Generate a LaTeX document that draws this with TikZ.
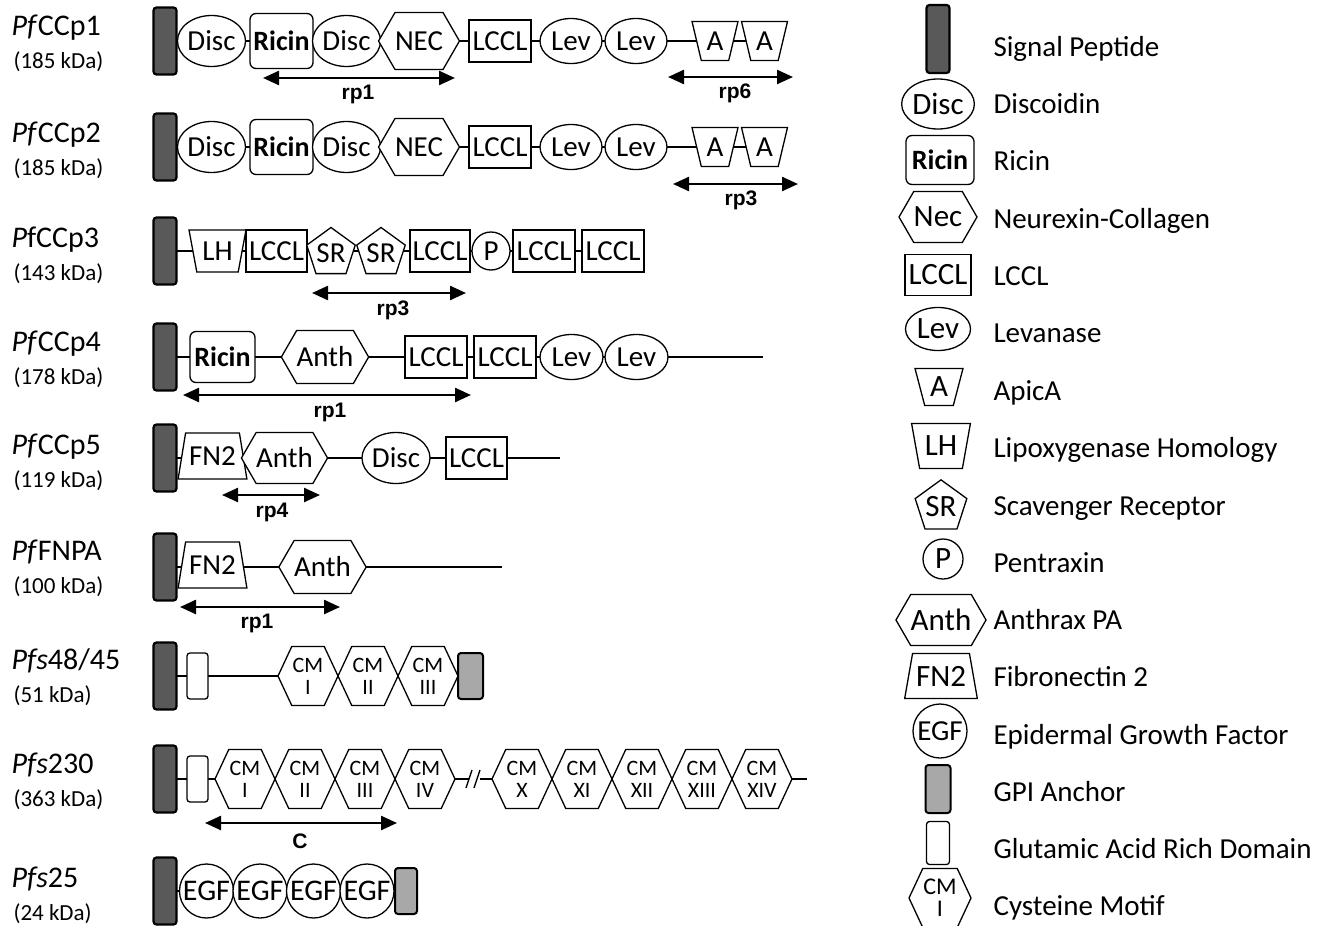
\documentclass[tikz,border=0pt]{standalone}
\usepackage{fontspec}
\setmainfont{Carlito}
\newfontfamily\labfont{Liberation Sans}
\usetikzlibrary{shapes.geometric,shapes.symbols,arrows.meta,backgrounds}
\definecolor{spgray}{HTML}{595959}
\definecolor{gpigray}{HTML}{A8A8A8}
\newcommand\domfont{\fontsize{29}{29}\selectfont}
\newcommand\ldomfont{\fontsize{31}{31}\selectfont}
\newcommand\egffont{\fontsize{30}{30}\selectfont}
\newcommand\legfont{\fontsize{29}{30}\selectfont}
\newcommand\rpfont{\fontsize{21}{22}\selectfont\labfont\bfseries}
\newcommand\namefont{\fontsize{30}{30}\selectfont}
\newcommand\kdafont{\fontsize{23}{24}\selectfont}
\newcommand\cmfont{\fontsize{22}{22}\selectfont}
\begin{document}
\begin{tikzpicture}[x=1pt,y=-1pt,
  dom/.style={draw,line width=1.3pt,fill=white,inner sep=0pt,font=\domfont},
  ell/.style 2 args={dom,ellipse,minimum width=#1pt,minimum height=#2pt},
  box/.style 2 args={dom,rectangle,minimum width=#1pt,minimum height=#2pt},
  rbox/.style 2 args={dom,rectangle,rounded corners=6pt,minimum width=#1pt,minimum height=#2pt,font=\fontsize{28}{28}\selectfont\bfseries},
  hex/.style 2 args={dom,signal,signal to=east and west,signal pointer angle=120,minimum width=#1pt,minimum height=#2pt},
  cmx/.style={dom,signal,signal to=east and west,signal pointer angle=130,minimum width=60pt,minimum height=59pt,font=\cmfont,align=center},
  trapu/.style 2 args={dom,trapezium,trapezium stretches=true,shape border rotate=180,trapezium angle=73,minimum width=#1pt,minimum height=#2pt},
  trapd/.style 2 args={dom,trapezium,trapezium stretches=true,trapezium angle=71,minimum width=#1pt,minimum height=#2pt},
  pent/.style={dom,regular polygon,regular polygon sides=5,minimum size=#1pt},
  circ/.style={dom,circle,minimum size=#1pt},
  sp/.style={draw,line width=2.2pt,fill=spgray,rounded corners=3pt,inner sep=0pt,minimum width=23pt,minimum height=#1pt},
  sp/.default=67,
  gpi/.style 2 args={draw,line width=2pt,fill=gpigray,rounded corners=3pt,inner sep=0pt,minimum width=#1pt,minimum height=#2pt},
  glu/.style 2 args={draw,line width=1.3pt,fill=white,rounded corners=3pt,inner sep=0pt,minimum width=#1pt,minimum height=#2pt},
  bb/.style={line width=1.4pt},
  rng/.style={line width=2.4pt,{Triangle[length=16pt,width=14pt]}-{Triangle[length=16pt,width=14pt]}},
  rlab/.style={font=\rpfont},
  nm/.style={font=\namefont,anchor=base west},
  kda/.style={font=\kdafont,anchor=base west},
  leg/.style={font=\legfont,anchor=base west},
  lf/.style={font=\ldomfont},
]
\useasboundingbox (0,0) rectangle (1320,926);

% ---------- names ----------
\node[nm] (n1) at (8,35) {\textit{Pf}CCp1};
\node[kda] (k1) at (10,68) {(185 kDa)};
\node[nm] (n2) at (8,142) {\textit{Pf}CCp2};
\node[kda] (k2) at (10,175) {(185 kDa)};
\node[nm] (n3) at (8,247) {\textit{P}fCCp3};
\node[kda] (k3) at (10,280) {(143 kDa)};
\node[nm] (n4) at (8,351) {\textit{Pf}CCp4};
\node[kda] (k4) at (10,384) {(178 kDa)};
\node[nm] (n5) at (8,454) {\textit{Pf}CCp5};
\node[kda] (k5) at (10,487) {(119 kDa)};
\node[nm] (n6) at (8,560) {\textit{Pf}FNPA};
\node[kda] (k6) at (10,593) {(100 kDa)};
\node[nm] (n7) at (8,669) {\textit{Pfs}48/45};
\node[kda] (k7) at (10,702) {(51 kDa)};
\node[nm] (n8) at (8,773) {\textit{Pfs}230};
\node[kda] (k8) at (10,806) {(363 kDa)};
\node[nm] (n9) at (8,887) {\textit{Pfs}25};
\node[kda] (k9) at (10,920) {(24 kDa)};

% ---------- row 1 ----------
\node[sp] (sp1) at (165,41) {};
\node[ell={67}{51}] (r1d1) at (211.5,41) {Disc};
\node[rbox={63}{55}] (r1r) at (281.5,41) {Ricin};
\node[ell={67}{51}] (r1d2) at (346.5,41) {Disc};
\node[hex={72}{57}] (r1n) at (419,41) {NEC};
\node[box={62}{42}] (r1l) at (500,41) {LCCL};
\node[ell={62}{45}] (r1v1) at (571,41) {Lev};
\node[ell={62}{45}] (r1v2) at (636,41) {Lev};
\node[trapu={46}{39}] (r1a1) at (715,41) {A};
\node[trapu={46}{39}] (r1a2) at (764.5,41) {A};
\coordinate (r1ua) at (263,78); \coordinate (r1ub) at (455,78);
\draw[rng] (r1ua) -- (r1ub);
\node[rlab] (r1ul) at (358,94) {rp1};
\coordinate (r1va) at (668,77); \coordinate (r1vb) at (793,77);
\draw[rng] (r1va) -- (r1vb);
\node[rlab] (r1vl) at (735,93) {rp6};

% ---------- row 2 ----------
\node[sp] (sp2) at (165,147) {};
\node[ell={67}{51}] (r2d1) at (211.5,147) {Disc};
\node[rbox={63}{55}] (r2r) at (281.5,147) {Ricin};
\node[ell={67}{51}] (r2d2) at (346.5,147) {Disc};
\node[hex={72}{57}] (r2n) at (419,147) {NEC};
\node[box={62}{42}] (r2l) at (500,147) {LCCL};
\node[ell={62}{45}] (r2v1) at (571,147) {Lev};
\node[ell={62}{45}] (r2v2) at (636,147) {Lev};
\node[trapu={46}{39}] (r2a1) at (715,147) {A};
\node[trapu={46}{39}] (r2a2) at (764.5,147) {A};
\coordinate (r2ua) at (673,184); \coordinate (r2ub) at (798,184);
\draw[rng] (r2ua) -- (r2ub);
\node[rlab] (r2ul) at (741,200) {rp3};

% ---------- row 3 ----------
\node[sp] (sp3) at (165,251) {};
\node[trapu={57}{42}] (r3h) at (217.5,251) {LH};
\node[box={61}{42}] (r3l1) at (276.5,251) {LCCL};
\node[pent=51] (r3s1) at (331,253) {SR};
\node[pent=51] (r3s2) at (381,253) {SR};
\node[box={60}{42}] (r3l2) at (440,251) {LCCL};
\node[circ=38] (r3p) at (491,251) {P};
\node[box={62}{42}] (r3l3) at (544,251) {LCCL};
\node[box={62}{42}] (r3l4) at (613,251) {LCCL};
\coordinate (r3ua) at (312,293); \coordinate (r3ub) at (466,293);
\draw[rng] (r3ua) -- (r3ub);
\node[rlab] (r3ul) at (393,310) {rp3};

% ---------- row 4 ----------
\node[sp] (sp4) at (165,357) {};
\node[rbox={65}{51}] (r4r) at (222.5,357) {Ricin};
\node[hex={74}{53}] (r4a) at (325,357) {Anth};
\node[box={62}{42}] (r4l1) at (436,357) {LCCL};
\node[box={62}{42}] (r4l2) at (505,357) {LCCL};
\node[ell={63}{45}] (r4v1) at (571.5,357) {Lev};
\node[ell={63}{45}] (r4v2) at (636.5,357) {Lev};
\coordinate (end4) at (763,357);
\coordinate (r4ua) at (183,395); \coordinate (r4ub) at (471,395);
\draw[rng] (r4ua) -- (r4ub);
\node[rlab] (r4ul) at (330,412) {rp1};

% ---------- row 5 ----------
\node[sp] (sp5) at (165,458) {};
\node[trapd={69}{46}] (r5f) at (212.5,456) {FN2};
\node[hex={75}{51}] (r5a) at (284.5,458) {Anth};
\node[ell={68}{51}] (r5d) at (396,458) {Disc};
\node[box={61}{42}] (r5l) at (476.5,458) {LCCL};
\coordinate (end5) at (560,458);
\coordinate (r5ua) at (222,495); \coordinate (r5ub) at (320,495);
\draw[rng] (r5ua) -- (r5ub);
\node[rlab] (r5ul) at (272,512) {rp4};

% ---------- row 6 ----------
\node[sp] (sp6) at (165,567) {};
\node[trapd={69}{46}] (r6f) at (212.5,565) {FN2};
\node[hex={75}{53}] (r6a) at (322.5,567) {Anth};
\coordinate (end6) at (502,567);
\coordinate (r6ua) at (180,607); \coordinate (r6ub) at (340,607);
\draw[rng] (r6ua) -- (r6ub);
\node[rlab] (r6ul) at (257,623) {rp1};

% ---------- row 7 ----------
\node[sp] (sp7) at (165,676) {};
\node[glu={21}{46}] (r7g) at (197.5,676) {};
\node[cmx] (r7c1) at (308,676) {CM\\I};
\node[cmx] (r7c2) at (368,676) {CM\\II};
\node[cmx] (r7c3) at (428,676) {CM\\III};
\node[gpi={25}{46}] (r7p) at (470.5,676) {};

% ---------- row 8 ----------
\node[sp] (sp8) at (165,779) {};
\node[glu={21}{46}] (r8g) at (197.5,779) {};
\node[cmx] (r8c1) at (245,779) {CM\\I};
\node[cmx] (r8c2) at (305,779) {CM\\II};
\node[cmx] (r8c3) at (365,779) {CM\\III};
\node[cmx] (r8c4) at (425,779) {CM\\IV};
\node[cmx] (r8c10) at (522,779) {CM\\X};
\node[cmx] (r8c11) at (582,779) {CM\\XI};
\node[cmx] (r8c12) at (642,779) {CM\\XII};
\node[cmx] (r8c13) at (702,779) {CM\\XIII};
\node[cmx] (r8c14) at (762,779) {CM\\XIV};
\coordinate (brkA) at (469,779); \coordinate (brkB) at (480,779);
\coordinate (end8) at (807,779);
\draw[bb] (466,788) -- (472,770);
\draw[bb] (474,788) -- (480,770);
\coordinate (r8ua) at (205,823); \coordinate (r8ub) at (397,823);
\draw[rng] (r8ua) -- (r8ub);
\node[rlab] (r8ul) at (300,841) {C};

% ---------- row 9 ----------
\node[sp] (sp9) at (165,891) {};
\node[circ=54,font=\egffont] (r9e1) at (206.5,891) {EGF};
\node[circ=54,font=\egffont] (r9e2) at (260,891) {EGF};
\node[circ=54,font=\egffont] (r9e3) at (313.5,891) {EGF};
\node[circ=54,font=\egffont] (r9e4) at (367,891) {EGF};
\node[gpi={22}{46}] (r9p) at (406,891) {};

% ---------- backbones ----------
\begin{pgfonlayer}{background}
\fill[white] (0,0) rectangle (1320,926);
\draw[bb] (sp1.center) -- (r1a2.center);
\draw[bb] (sp2.center) -- (r2a2.center);
\draw[bb] (sp3.center) -- (r3l4.center);
\draw[bb] (sp4.center) -- (end4);
\draw[bb] (sp5.center) -- (end5);
\draw[bb] (sp6.center) -- (end6);
\draw[bb] (sp7.center) -- (r7p.center);
\draw[bb] (sp8.center) -- (brkA);
\draw[bb] (brkB) -- (end8);
\draw[bb] (sp9.center) -- (r9p.center);
\end{pgfonlayer}

% ---------- legend ----------
\node[sp=68] (lsp) at (938,39) {};
\node[ell={72}{50},lf] (ldisc) at (938,104) {Disc};
\node[rbox={68}{49}] (lric) at (940,160) {Ricin};
\node[hex={72}{51},lf] (lnec) at (938,217) {Nec};
\node[box={66}{41},lf] (llccl) at (938,275) {LCCL};
\node[ell={65}{43},lf] (llev) at (938,329) {Lev};
\node[trapu={48}{37},lf] (la) at (939,387) {A};
\node[trapu={59}{45},lf] (llh) at (941,446) {LH};
\node[pent=54,lf] (lsr) at (941,507) {SR};
\node[circ=40,lf] (lp) at (943,559) {P};
\node[hex={78}{51},lf] (lanth) at (941,620) {Anth};
\node[trapd={73}{45},lf] (lfn) at (941,676) {FN2};
\node[circ=54,font=\fontsize{29}{29}\selectfont] (legf) at (940,731) {EGF};
\node[gpi={25}{48}] (lgpi) at (938,789) {};
\node[glu={23}{43}] (lglu) at (938,843) {};
\node[cmx,minimum width=62pt,font=\fontsize{24}{22}\selectfont] (lcm) at (940,898) {CM\\I};

\node[leg] (t1) at (990,56) {Signal Peptide};
\node[leg] (t2) at (990,113) {Discoidin};
\node[leg] (t3) at (990,170) {Ricin};
\node[leg] (t4) at (990,228) {Neurexin-Collagen};
\node[leg] (t5) at (990,285) {LCCL};
\node[leg] (t6) at (990,342) {Levanase};
\node[leg] (t7) at (990,400) {ApicA};
\node[leg] (t8) at (990,457) {Lipoxygenase Homology};
\node[leg] (t9) at (990,515) {Scavenger Receptor};
\node[leg] (t10) at (990,572) {Pentraxin};
\node[leg] (t11) at (990,629) {Anthrax PA};
\node[leg] (t12) at (990,686) {Fibronectin 2};
\node[leg] (t13) at (990,744) {Epidermal Growth Factor};
\node[leg] (t14) at (990,801) {GPI Anchor};
\node[leg] (t15) at (990,858) {Glutamic Acid Rich Domain};
\node[leg] (t16) at (990,915) {Cysteine Motif};
\end{tikzpicture}
\end{document}
